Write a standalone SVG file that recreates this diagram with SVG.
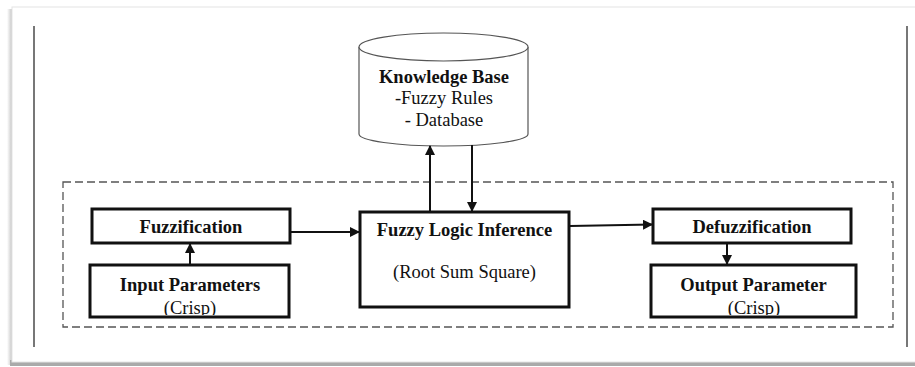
<svg xmlns="http://www.w3.org/2000/svg" width="915" height="367" viewBox="0 0 915 367">
<defs>
<style>
.t{font-family:"Liberation Serif","Times New Roman",serif;font-size:18.5px;fill:#111;text-anchor:middle}
.b{font-weight:bold}
.box{fill:#fff;stroke:#111;stroke-width:3}
.ln{stroke:#111;stroke-width:2;fill:none}
</style>
<marker id="ah" viewBox="0 0 10 10" refX="9" refY="5" markerWidth="5" markerHeight="5" orient="auto" markerUnits="strokeWidth">
<path d="M0,0 L10,5 L0,10 z" fill="#111"/>
</marker>
<clipPath id="ci"><rect x="91" y="266" width="197" height="49"/></clipPath>
<clipPath id="co"><rect x="652" y="266" width="203" height="49"/></clipPath>
<linearGradient id="ls" x1="0" x2="1"><stop offset="0" stop-color="#fff"/><stop offset="1" stop-color="#bbb"/></linearGradient>
</defs>
<rect width="915" height="367" fill="#fff"/>
<!-- card -->
<rect x="7" y="9" width="6" height="356" fill="url(#ls)"/>
<rect x="10" y="360" width="905" height="6" fill="#aaa"/>
<rect x="12" y="7" width="910" height="355" fill="#fff" stroke="#e4e4e4" stroke-width="1"/>
<line x1="34" y1="26" x2="34" y2="347" stroke="#777" stroke-width="2"/>
<line x1="907" y1="26" x2="907" y2="347" stroke="#777" stroke-width="2"/>
<rect x="63" y="182" width="830" height="145" fill="none" stroke="#555" stroke-width="1.3" stroke-dasharray="8,4"/>
<g id="kb">
<path d="M359,47 L359,134 A84.5,12 0 0 0 528,134 L528,47" fill="#fff" stroke="#555" stroke-width="1.2"/>
<ellipse cx="443.5" cy="47" rx="84.5" ry="14" fill="#fff" stroke="#555" stroke-width="1.2"/>
<text class="t b" x="444" y="83">Knowledge Base</text>
<text class="t" x="444" y="104">-Fuzzy Rules</text>
<text class="t" x="444" y="126">- Database</text>
</g>
<g id="fuzz">
<rect class="box" x="92" y="209" width="198" height="34"/>
<text class="t b" x="191" y="233">Fuzzification</text>
</g>
<g id="input">
<rect class="box" x="90" y="265" width="199" height="52"/>
<g clip-path="url(#ci)">
<text class="t b" x="190" y="291">Input Parameters</text>
<text class="t" x="190" y="314">(Crisp)</text>
</g>
</g>
<g id="fli">
<rect class="box" x="360" y="212" width="209" height="95"/>
<text class="t b" x="464.5" y="236">Fuzzy Logic Inference</text>
<text class="t" x="464.5" y="278">(Root Sum Square)</text>
</g>
<g id="defuzz">
<rect class="box" x="653" y="209" width="198" height="34"/>
<text class="t b" x="752" y="233">Defuzzification</text>
</g>
<g id="output">
<rect class="box" x="651" y="265" width="205" height="52"/>
<g clip-path="url(#co)">
<text class="t b" x="753.5" y="291">Output Parameter</text>
<text class="t" x="754" y="314">(Crisp)</text>
</g>
</g>
<g id="connectors">
<line class="ln" x1="430" y1="211" x2="430" y2="146" marker-end="url(#ah)"/>
<line class="ln" x1="472" y1="145" x2="472" y2="211" marker-end="url(#ah)"/>
<line class="ln" x1="190" y1="264" x2="190" y2="244" marker-end="url(#ah)"/>
<line class="ln" x1="291" y1="232" x2="359" y2="232" marker-end="url(#ah)"/>
<line class="ln" x1="570" y1="226" x2="652" y2="224.5" marker-end="url(#ah)"/>
<line class="ln" x1="727" y1="244" x2="727" y2="264" marker-end="url(#ah)"/>
</g>
</svg>
